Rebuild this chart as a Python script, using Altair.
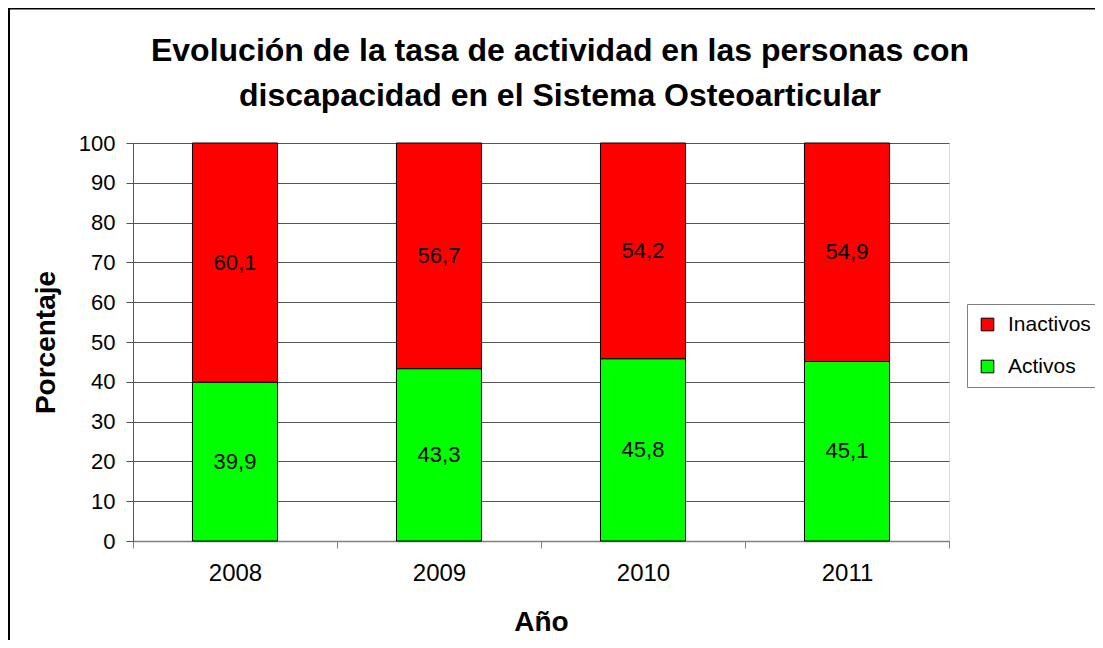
import altair as alt
import pandas as pd

years = ["2008", "2009", "2010", "2011"]
activos = [39.9, 43.3, 45.8, 45.1]
inactivos = [60.1, 56.7, 54.2, 54.9]
series = ["Inactivos", "Activos"]
colors = ["#FF0000", "#00FF00"]
title_lines = ["Evolución de la tasa de actividad en las personas con",
               "discapacidad en el Sistema Osteoarticular"]

rows = []
for i, y in enumerate(years):
    rows.append({"year": y, "serie": "Activos", "orden": 0, "value": activos[i],
                 "label": f"{activos[i]:.1f}".replace(".", ",")})
    rows.append({"year": y, "serie": "Inactivos", "orden": 1, "value": inactivos[i],
                 "label": f"{inactivos[i]:.1f}".replace(".", ",")})
df = pd.DataFrame(rows)

FONT = "Liberation Sans"
W, H = 816, 398
PL, PT, PR, PB = 125, 135, 146, 99

base = alt.Chart(df).transform_stack(
    stack="value", groupby=["year"], as_=["y0", "y1"],
    sort=[alt.SortField("orden", order="ascending")]
).transform_calculate(mid="(datum.y0 + datum.y1) / 2")

x_axis = alt.Axis(labelAngle=0, tickBand="extent", labelFontSize=24,
                  labelFont=FONT, labelColor="#000", labelPadding=13,
                  tickSize=7, tickColor="#808080", domainColor="#808080",
                  domainWidth=1.5, titleFont=FONT, titleFontSize=28,
                  titleFontWeight="bold", titleColor="#000", titlePadding=23,
                  grid=False)
y_axis = alt.Axis(values=list(range(0, 101, 10)), labelOverlap=False, labelFontSize=22,
                  labelFont=FONT, labelColor="#000", labelPadding=11,
                  tickSize=7, tickColor="#555", domainColor="#555",
                  gridColor="#555", gridWidth=1, titleFont=FONT,
                  titleFontSize=28, titleFontWeight="bold", titleColor="#000",
                  titlePadding=18)
x_scale = alt.Scale(paddingInner=0, paddingOuter=0)
y_scale = alt.Scale(domain=[0, 100], nice=False)

bars = base.mark_bar(stroke="#000", strokeWidth=1, width=alt.RelativeBandSize(0.417)).encode(
    x=alt.X("year:N", title="Año", sort=years, scale=x_scale, axis=x_axis),
    y=alt.Y("y0:Q", title="Porcentaje", scale=y_scale, axis=y_axis),
    y2="y1:Q",
    color=alt.Color("serie:N", title=None,
                    scale=alt.Scale(domain=series, range=colors),
                    legend=alt.Legend(orient="none", legendX=834, legendY=161,
                                      symbolType="square", symbolSize=160,
                                      symbolStrokeColor="#000", symbolStrokeWidth=1,
                                      symbolOpacity=1,
                                      labelFont=FONT, labelFontSize=21, labelColor="#000",
                                      labelOffset=10, padding=10, rowPadding=20,
                                      strokeColor="#808080", fillColor="#fff")),
    order=alt.Order("orden:Q"),
)

texts = base.mark_text(font=FONT, fontSize=22, color="#000").encode(
    x=alt.X("year:N", title="Año", sort=years, scale=x_scale, axis=x_axis),
    y=alt.Y("mid:Q", title="Porcentaje", scale=y_scale, axis=y_axis),
    text="label:N",
)

title1 = alt.Chart(alt.Data(values=[{"t": title_lines[0]}])).mark_text(
    font=FONT, fontSize=32, fontWeight="bold", color="#000", baseline="alphabetic",
    align="center", clip=False).encode(x=alt.value(427), y=alt.value(-82), text="t:N")
title2 = alt.Chart(alt.Data(values=[{"t": title_lines[1]}])).mark_text(
    font=FONT, fontSize=32, fontWeight="bold", color="#000", baseline="alphabetic",
    align="center", clip=False).encode(x=alt.value(427), y=alt.value(-37), text="t:N")

border = alt.Chart(alt.Data(values=[{}])).mark_rule(color="#000", strokeWidth=2, clip=False).encode(
    x=alt.value(-PL), x2=alt.value(W + PR), y=alt.value(-PT + 0.5))
border_left = alt.Chart(alt.Data(values=[{}])).mark_rule(color="#000", strokeWidth=2, clip=False).encode(
    x=alt.value(-PL + 1), y=alt.value(-PT), y2=alt.value(H + PB))

chart = alt.layer(bars, texts, title1, title2, border, border_left).properties(
    width=W, height=H,
    autosize=alt.AutoSizeParams(type="none"),
    padding={"left": PL, "top": PT, "right": PR, "bottom": PB},
).configure_view(stroke="#808080", strokeWidth=1.5).configure(background="#fff")

chart.save("out.html", embed_options={"renderer": "svg", "actions": False})
